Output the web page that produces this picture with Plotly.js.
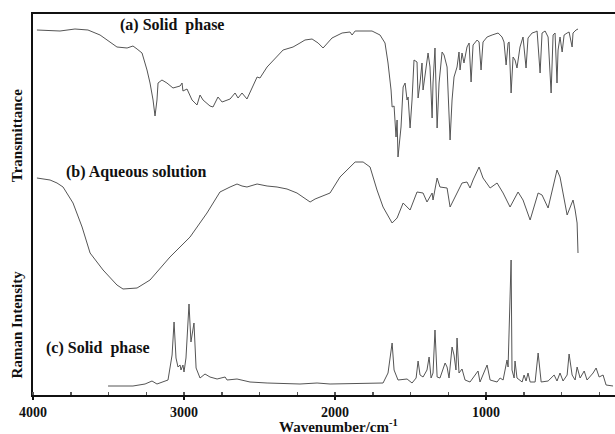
<!DOCTYPE html>
<html>
<head>
<meta charset="utf-8">
<script src="https://cdn.plot.ly/plotly-3.0.1.min.js"></script>
<style>html,body{margin:0;padding:0;background:#fff;}#chart{width:615px;height:434px;}</style>
</head>
<body>
<div id="chart"></div>
<script>
// IR (a) solid phase: wavenumber (cm-1) and transmittance (arbitrary, offset units)
const irSolidWn = [3974,3821,3722,3636,3556,3444,3377,3338,3311,3278,3245,3225,3205,3192,3179,3172,3146,3113,3073,3026,3013,3007,2980,2947,2927,2914,2894,2874,2828,2808,2775,2748,2695,2662,2642,2616,2583,2516,2497,2450,2344,2278,2232,2199,2152,2112,2079,2053,2020,1953,1901,1887,1867,1755,1702,1669,1649,1629,1622,1609,1596,1589,1583,1563,1549,1536,1523,1516,1503,1490,1477,1457,1450,1437,1424,1417,1397,1384,1371,1357,1351,1338,1324,1311,1291,1278,1258,1238,1225,1212,1192,1179,1172,1159,1146,1126,1112,1099,1086,1059,1046,1033,1020,993,960,920,894,881,867,854,847,834,821,808,795,775,755,735,722,695,675,662,642,629,609,589,569,556,543,530,523,510,496,483,463,450,430,424,404,391];
const irSolidT = [365,364,366,365,360,348,347,349,346,342,325,312,295,279,295,312,315,312,307,309,312,304,306,295,292,290,300,295,289,288,298,293,296,302,297,302,296,318,317,328,345,348,352,355,356,352,347,351,357,362,363,360,364,364,360,352,332,305,288,289,258,275,238,268,308,312,295,298,267,295,335,333,297,312,332,305,325,342,328,277,312,347,267,312,343,340,328,255,295,318,328,343,325,342,332,348,352,313,350,355,353,325,353,358,360,362,358,353,330,352,353,302,338,335,327,348,358,327,357,362,363,364,322,362,364,358,302,360,362,312,345,358,343,360,362,363,348,362,365,366];

// IR (b) aqueous solution
const irAqWn = [3974,3887,3841,3801,3735,3675,3622,3536,3444,3404,3311,3225,3093,2960,2848,2762,2695,2649,2616,2583,2516,2450,2384,2318,2252,2199,2165,2132,2099,2033,1967,1901,1867,1814,1768,1722,1682,1622,1589,1549,1503,1457,1417,1391,1357,1351,1324,1305,1258,1238,1192,1159,1126,1106,1086,1046,1020,973,927,887,841,788,755,708,655,629,589,530,510,463,424,410,397,391];
const irAqT = [217,215,212,208,192,168,142,125,110,106,107,115,138,158,182,203,208,211,209,208,211,209,208,206,202,197,193,196,198,202,218,228,233,233,228,205,188,172,177,192,185,203,202,193,202,195,217,208,207,188,203,212,213,207,215,228,217,207,212,202,188,203,195,175,202,200,187,225,218,180,195,185,172,142];

// Raman (c) solid phase
const ramanWn = [3503,3338,3258,3212,3179,3106,3079,3066,3053,3040,3026,3020,3007,3000,2987,2967,2954,2934,2920,2894,2861,2828,2781,2728,2715,2649,2563,2450,2232,2119,2033,1682,1649,1622,1609,1583,1523,1490,1463,1450,1437,1417,1391,1377,1364,1351,1338,1324,1305,1285,1271,1258,1245,1225,1212,1199,1192,1179,1159,1139,1106,1053,1040,993,973,927,907,887,861,854,847,834,828,814,808,795,761,748,735,722,708,675,655,635,589,549,530,510,490,463,450,430,410,397,377,350,331,291,271,251,225,205,159];
const ramanI = [9,9,11,14,11,15,40,73,37,28,30,25,30,23,37,91,53,72,27,17,21,18,16,18,15,16,13,12,11,12,11,12,22,52,25,15,16,12,17,34,20,18,25,38,17,22,65,18,17,27,32,28,17,48,40,25,57,22,26,15,13,24,13,30,15,13,17,15,35,28,68,135,25,17,34,17,13,20,14,22,13,13,42,13,14,20,14,22,14,20,41,20,15,28,17,24,15,22,27,18,20,10,9];

const xTicks = [4000,3000,2000,1000];
const labels = ["(a) Solid  phase","(b) Aqueous solution","(c) Solid  phase"];
const yTitles = ["Transmittance","Raman Intensity"];
const xTitle = "Wavenumber/cm<sup>-1</sup>";

const lineStyle = {color:'#555555', width:1};
const traces = [
  {x: irSolidWn, y: irSolidT, type:'scatter', mode:'lines', line: lineStyle, hoverinfo:'skip'},
  {x: irAqWn, y: irAqT, type:'scatter', mode:'lines', line: lineStyle, hoverinfo:'skip'},
  {x: ramanWn, y: ramanI, type:'scatter', mode:'lines', line: lineStyle, hoverinfo:'skip'}
];

const serif = "'Liberation Serif', 'Times New Roman', serif";
function ann(text, x, y, size, angle) {
  return {text:'<b>'+text+'</b>', xref:'paper', yref:'paper', x:x, y:y,
    xanchor:'center', yanchor:'middle', textangle:angle||0, showarrow:false,
    font:{family:serif, size:size, color:'#111'}};
}
const layout = {
  width:615, height:434,
  margin:{l:33, r:0, t:14, b:39},
  paper_bgcolor:'#fff', plot_bgcolor:'#fff',
  showlegend:false,
  xaxis:{
    range:[4000,146], tickvals:xTicks, ticktext:xTicks.map(String),
    showline:true, linecolor:'#111', linewidth:2, mirror:true,
    ticks:'outside', ticklen:3, tickwidth:1.5, tickcolor:'#111',
    minor:{dtick:250, ticks:'inside', ticklen:3, tickcolor:'#555', showgrid:false},
    showgrid:false, zeroline:false, automargin:false,
    tickfont:{family:serif, size:14, color:'#111', weight:'bold'}
  },
  yaxis:{
    range:[0,381], showticklabels:false, ticks:'', showgrid:false, zeroline:false,
    showline:true, linecolor:'#111', linewidth:2, automargin:false
  },
  annotations:[
    ann(labels[0], 0.238, 0.970, 16),
    ann(labels[1], 0.178, 0.585, 16),
    ann(labels[2], 0.112, 0.123, 16),
    ann(yTitles[0], -0.027, 0.680, 15, -90),
    ann(yTitles[1], -0.027, 0.186, 15, -90),
    ann(xTitle, 0.525, -0.082, 15)
  ]
};
Plotly.newPlot('chart', traces, layout, {staticPlot:true, displayModeBar:false});
</script>
</body>
</html>
